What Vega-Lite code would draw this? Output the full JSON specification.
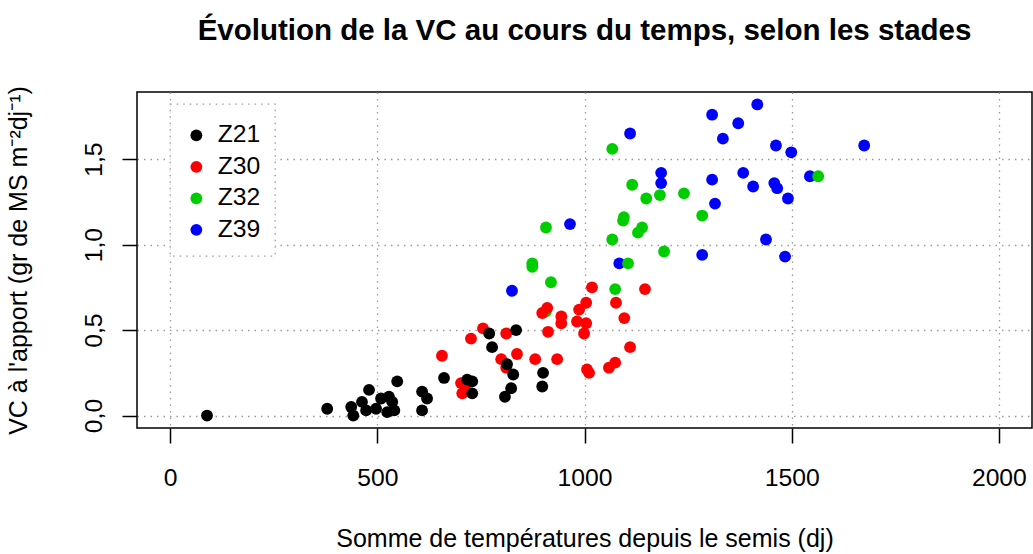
{
  "$schema": "https://vega.github.io/schema/vega-lite/v6.json",
  "width": 895,
  "height": 336,
  "autosize": {"type": "none"},
  "padding": {"left": 137, "top": 92, "right": 1, "bottom": 126},
  "background": "white",
  "title": {
    "text": "Évolution de la VC au cours du temps, selon les stades",
    "font": "Liberation Sans",
    "fontSize": 29.5,
    "fontWeight": "bold",
    "color": "black",
    "anchor": "middle",
    "offset": 39
  },
  "data": {
    "values": [
      {"st": 825, "vc": 0.73, "stade": "Z39"},
      {"st": 965, "vc": 1.12, "stade": "Z39"},
      {"st": 1110, "vc": 1.65, "stade": "Z39"},
      {"st": 1084, "vc": 0.89, "stade": "Z39"},
      {"st": 1417, "vc": 1.82, "stade": "Z39"},
      {"st": 1308, "vc": 1.76, "stade": "Z39"},
      {"st": 1371, "vc": 1.71, "stade": "Z39"},
      {"st": 1334, "vc": 1.62, "stade": "Z39"},
      {"st": 1462, "vc": 1.58, "stade": "Z39"},
      {"st": 1499, "vc": 1.54, "stade": "Z39"},
      {"st": 1675, "vc": 1.58, "stade": "Z39"},
      {"st": 1185, "vc": 1.42, "stade": "Z39"},
      {"st": 1185, "vc": 1.36, "stade": "Z39"},
      {"st": 1308, "vc": 1.38, "stade": "Z39"},
      {"st": 1383, "vc": 1.42, "stade": "Z39"},
      {"st": 1407, "vc": 1.34, "stade": "Z39"},
      {"st": 1458, "vc": 1.36, "stade": "Z39"},
      {"st": 1465, "vc": 1.33, "stade": "Z39"},
      {"st": 1491, "vc": 1.27, "stade": "Z39"},
      {"st": 1544, "vc": 1.40, "stade": "Z39"},
      {"st": 1315, "vc": 1.24, "stade": "Z39"},
      {"st": 1438, "vc": 1.03, "stade": "Z39"},
      {"st": 1284, "vc": 0.94, "stade": "Z39"},
      {"st": 1484, "vc": 0.93, "stade": "Z39"},
      {"st": 907, "vc": 0.61, "stade": "Z32"},
      {"st": 874, "vc": 0.89, "stade": "Z32"},
      {"st": 874, "vc": 0.87, "stade": "Z32"},
      {"st": 907, "vc": 1.10, "stade": "Z32"},
      {"st": 919, "vc": 0.78, "stade": "Z32"},
      {"st": 1067, "vc": 1.56, "stade": "Z32"},
      {"st": 1115, "vc": 1.35, "stade": "Z32"},
      {"st": 1149, "vc": 1.27, "stade": "Z32"},
      {"st": 1093, "vc": 1.14, "stade": "Z32"},
      {"st": 1095, "vc": 1.16, "stade": "Z32"},
      {"st": 1139, "vc": 1.10, "stade": "Z32"},
      {"st": 1129, "vc": 1.07, "stade": "Z32"},
      {"st": 1067, "vc": 1.03, "stade": "Z32"},
      {"st": 1105, "vc": 0.89, "stade": "Z32"},
      {"st": 1074, "vc": 0.74, "stade": "Z32"},
      {"st": 1182, "vc": 1.29, "stade": "Z32"},
      {"st": 1240, "vc": 1.30, "stade": "Z32"},
      {"st": 1284, "vc": 1.17, "stade": "Z32"},
      {"st": 1192, "vc": 0.96, "stade": "Z32"},
      {"st": 1564, "vc": 1.40, "stade": "Z32"},
      {"st": 656, "vc": 0.35, "stade": "Z30"},
      {"st": 726, "vc": 0.45, "stade": "Z30"},
      {"st": 755, "vc": 0.51, "stade": "Z30"},
      {"st": 811, "vc": 0.48, "stade": "Z30"},
      {"st": 799, "vc": 0.33, "stade": "Z30"},
      {"st": 811, "vc": 0.28, "stade": "Z30"},
      {"st": 837, "vc": 0.36, "stade": "Z30"},
      {"st": 881, "vc": 0.33, "stade": "Z30"},
      {"st": 934, "vc": 0.33, "stade": "Z30"},
      {"st": 702, "vc": 0.19, "stade": "Z30"},
      {"st": 705, "vc": 0.13, "stade": "Z30"},
      {"st": 714, "vc": 0.18, "stade": "Z30"},
      {"st": 912, "vc": 0.49, "stade": "Z30"},
      {"st": 898, "vc": 0.60, "stade": "Z30"},
      {"st": 910, "vc": 0.63, "stade": "Z30"},
      {"st": 944, "vc": 0.58, "stade": "Z30"},
      {"st": 944, "vc": 0.54, "stade": "Z30"},
      {"st": 987, "vc": 0.62, "stade": "Z30"},
      {"st": 982, "vc": 0.55, "stade": "Z30"},
      {"st": 1004, "vc": 0.54, "stade": "Z30"},
      {"st": 999, "vc": 0.48, "stade": "Z30"},
      {"st": 1004, "vc": 0.66, "stade": "Z30"},
      {"st": 1018, "vc": 0.75, "stade": "Z30"},
      {"st": 1076, "vc": 0.66, "stade": "Z30"},
      {"st": 1146, "vc": 0.74, "stade": "Z30"},
      {"st": 1096, "vc": 0.57, "stade": "Z30"},
      {"st": 1110, "vc": 0.40, "stade": "Z30"},
      {"st": 1006, "vc": 0.27, "stade": "Z30"},
      {"st": 1011, "vc": 0.25, "stade": "Z30"},
      {"st": 1059, "vc": 0.28, "stade": "Z30"},
      {"st": 1074, "vc": 0.31, "stade": "Z30"},
      {"st": 89, "vc": 0.00, "stade": "Z21"},
      {"st": 379, "vc": 0.04, "stade": "Z21"},
      {"st": 437, "vc": 0.05, "stade": "Z21"},
      {"st": 442, "vc": 0.00, "stade": "Z21"},
      {"st": 463, "vc": 0.08, "stade": "Z21"},
      {"st": 480, "vc": 0.15, "stade": "Z21"},
      {"st": 473, "vc": 0.03, "stade": "Z21"},
      {"st": 497, "vc": 0.04, "stade": "Z21"},
      {"st": 509, "vc": 0.10, "stade": "Z21"},
      {"st": 528, "vc": 0.11, "stade": "Z21"},
      {"st": 536, "vc": 0.08, "stade": "Z21"},
      {"st": 541, "vc": 0.03, "stade": "Z21"},
      {"st": 524, "vc": 0.02, "stade": "Z21"},
      {"st": 548, "vc": 0.20, "stade": "Z21"},
      {"st": 608, "vc": 0.14, "stade": "Z21"},
      {"st": 620, "vc": 0.10, "stade": "Z21"},
      {"st": 608, "vc": 0.03, "stade": "Z21"},
      {"st": 661, "vc": 0.22, "stade": "Z21"},
      {"st": 717, "vc": 0.21, "stade": "Z21"},
      {"st": 729, "vc": 0.20, "stade": "Z21"},
      {"st": 729, "vc": 0.13, "stade": "Z21"},
      {"st": 770, "vc": 0.48, "stade": "Z21"},
      {"st": 777, "vc": 0.40, "stade": "Z21"},
      {"st": 835, "vc": 0.50, "stade": "Z21"},
      {"st": 813, "vc": 0.30, "stade": "Z21"},
      {"st": 828, "vc": 0.24, "stade": "Z21"},
      {"st": 823, "vc": 0.16, "stade": "Z21"},
      {"st": 808, "vc": 0.11, "stade": "Z21"},
      {"st": 900, "vc": 0.25, "stade": "Z21"},
      {"st": 898, "vc": 0.17, "stade": "Z21"}
    ]
  },
  "mark": {"type": "point", "filled": true, "shape": "circle", "size": 140, "opacity": 1, "strokeWidth": 0},
  "encoding": {
    "x": {
      "field": "st",
      "type": "quantitative",
      "scale": {"domain": [-80, 2080], "nice": false, "zero": false},
      "axis": {
        "values": [0, 500, 1000, 1500, 2000],
        "format": "d",
        "title": "Somme de températures depuis le semis (dj)",
        "titlePadding": 37
      }
    },
    "y": {
      "field": "vc",
      "type": "quantitative",
      "scale": {"domain": [-0.0728, 1.8928], "nice": false, "zero": false},
      "axis": {
        "values": [0, 0.5, 1, 1.5],
        "labelExpr": "replace(format(datum.value, '.1f'), '.', ',')",
        "labelAngle": -90,
        "labelAlign": "center",
        "labelBaseline": "bottom",
        "labelPadding": 16,
        "title": "VC à l'apport (gr de MS m⁻²dj⁻¹)",
        "titlePadding": 50
      }
    },
    "color": {
      "field": "stade",
      "type": "nominal",
      "scale": {"domain": ["Z21", "Z30", "Z32", "Z39"], "range": ["#000000", "#FF0000", "#00CD00", "#0000FF"]},
      "legend": {
        "title": " ",
        "titleFontSize": 1,
        "titlePadding": 4,
        "orient": "none",
        "legendX": 33,
        "legendY": 12,
        "padding": 14,
        "rowPadding": 5.5,
        "labelOffset": 9,
        "fillColor": "white",
        "strokeColor": "#999999",
        "symbolType": "circle",
        "symbolSize": 140,
        "symbolStrokeWidth": 0,
        "symbolOpacity": 1,
        "labelFont": "Liberation Sans",
        "labelFontSize": 24.7,
        "labelColor": "black",
        "encode": {
          "legend": {"update": {"strokeDash": {"value": [1.5, 5]}, "strokeWidth": {"value": 1.3}}}
        }
      }
    }
  },
  "config": {
    "font": "Liberation Sans",
    "view": {"stroke": "black", "strokeWidth": 1.5},
    "axis": {
      "domain": false,
      "ticks": true,
      "tickSize": 15,
      "tickColor": "black",
      "tickWidth": 1.5,
      "grid": true,
      "gridColor": "#9a9a9a",
      "gridDash": [1.5, 5],
      "gridWidth": 1.3,
      "labelFont": "Liberation Sans",
      "labelFontSize": 24.7,
      "labelColor": "black",
      "labelPadding": 22,
      "titleFont": "Liberation Sans",
      "titleFontSize": 25,
      "titleFontWeight": "normal",
      "titleColor": "black"
    }
  }
}
